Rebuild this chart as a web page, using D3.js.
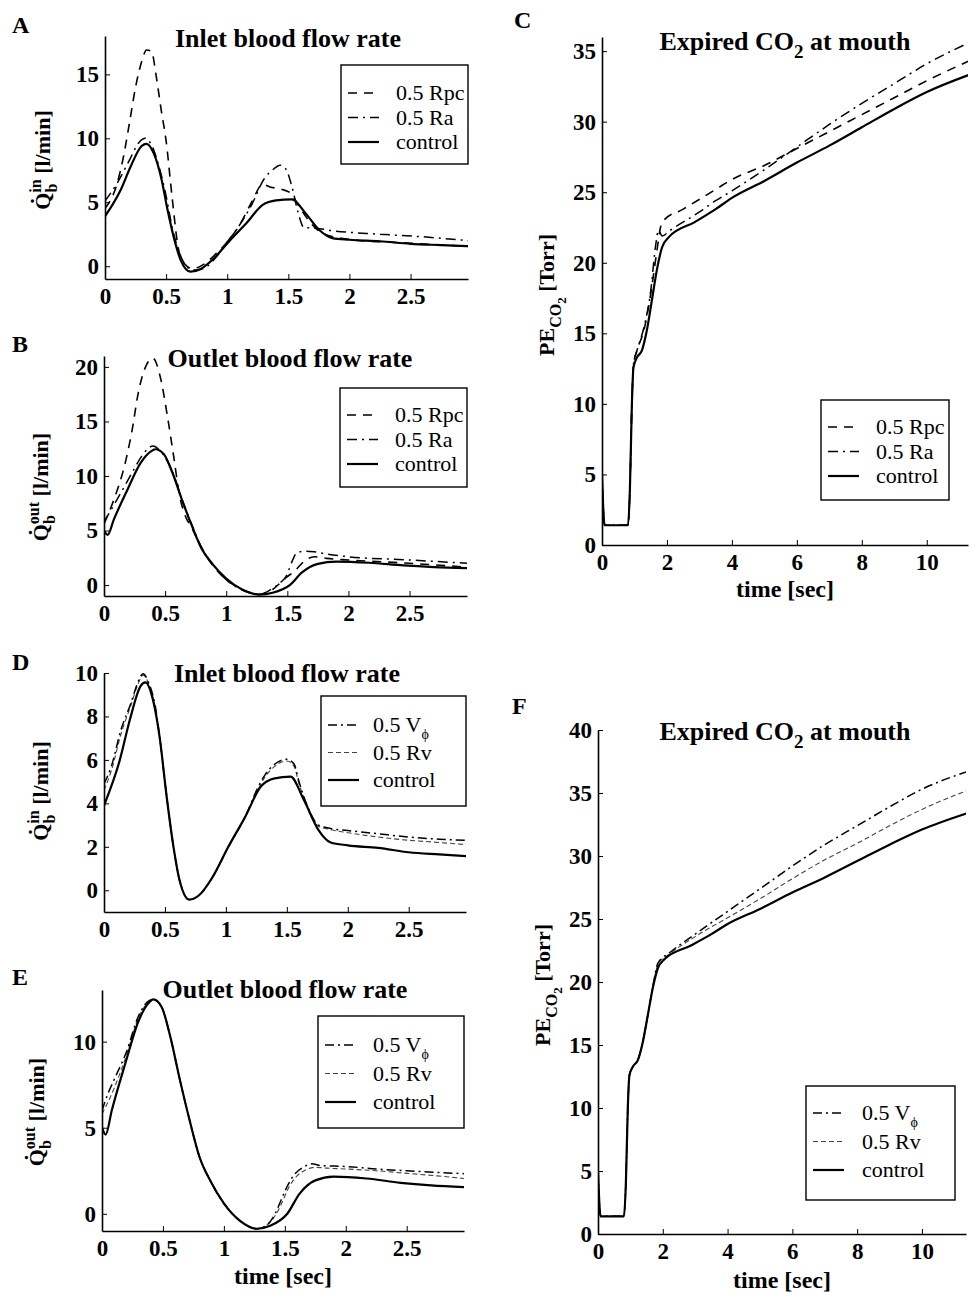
<!DOCTYPE html>
<html>
<head>
<meta charset="utf-8">
<script src="https://cdn.jsdelivr.net/npm/d3@7"></script>
<style>
  body { margin: 0; background: #fff; }
  svg { display: block; font-family: "Liberation Serif", "Times New Roman", Times, serif; }
</style>
</head>
<body>
<svg id="fig" width="972" height="1292"></svg>
<script>
// ---- data: [time, value] ----
var inletControl = [[0,3.9],[0.13,6.0],[0.21,7.8],[0.3,9.4],[0.34,9.57],[0.4,8.8],[0.46,6.9],[0.51,4.5],[0.57,2.0],[0.62,0.46],[0.7,-0.43],[0.78,-0.23],[0.89,0.6],[1.02,2.0],[1.16,3.4],[1.29,4.8],[1.4,5.15],[1.53,5.23],[1.64,4.15],[1.76,2.77],[1.86,2.2],[2.0,2.07],[2.25,1.95],[2.5,1.75],[2.75,1.65],[2.97,1.57]];
var inletRpc = [[0,4.5],[0.1,6.5],[0.15,8.5],[0.2,11.2],[0.25,14],[0.3,16],[0.34,16.9],[0.38,16.8],[0.42,14.8],[0.46,12.2],[0.5,9.8],[0.55,5.3],[0.6,1.4],[0.65,0.2],[0.72,-0.2],[0.8,0.1],[0.9,0.9],[1.0,1.9],[1.1,3.2],[1.2,5.0],[1.29,6.4],[1.35,6.2],[1.45,6.0],[1.52,5.7],[1.58,4.8],[1.65,3.8],[1.72,3.0],[1.8,2.5],[2.0,2.1],[2.5,1.8],[2.97,1.55]];
var inletRa = [[0,5.1],[0.1,6.5],[0.2,8.3],[0.28,9.7],[0.33,10.0],[0.38,9.5],[0.45,7.5],[0.5,5.5],[0.55,3.0],[0.6,1.3],[0.65,0.2],[0.72,-0.3],[0.8,-0.2],[0.9,0.6],[1.0,1.9],[1.1,3.2],[1.2,4.8],[1.3,6.8],[1.38,7.6],[1.43,7.9],[1.48,7.6],[1.53,6.2],[1.58,4.2],[1.63,3.0],[1.7,3.0],[1.84,2.8],[2.25,2.5],[2.6,2.3],[2.97,2.0]];
var inletVphi = [[0,4.9],[0.06,5.7],[0.14,7.4],[0.22,8.6],[0.28,9.6],[0.32,9.97],[0.37,9.5],[0.42,8.5],[0.46,6.9],[0.51,4.5],[0.57,2.0],[0.62,0.46],[0.7,-0.43],[0.78,-0.23],[0.89,0.6],[1.02,2.0],[1.16,3.4],[1.26,4.7],[1.32,5.3],[1.4,5.8],[1.5,6.03],[1.56,5.8],[1.6,5.0],[1.66,4.0],[1.76,3.0],[1.85,2.85],[2.0,2.75],[2.25,2.6],[2.5,2.45],[2.75,2.35],[2.97,2.3]];
var inletRv = [[0,4.6],[0.06,5.5],[0.14,7.2],[0.22,8.5],[0.28,9.5],[0.32,9.9],[0.37,9.45],[0.42,8.4],[0.46,6.9],[0.51,4.5],[0.57,2.0],[0.62,0.46],[0.7,-0.43],[0.78,-0.23],[0.89,0.6],[1.02,2.0],[1.16,3.4],[1.26,4.6],[1.32,5.2],[1.4,5.7],[1.5,5.95],[1.56,5.7],[1.6,4.9],[1.66,4.0],[1.76,2.95],[1.85,2.8],[2.0,2.65],[2.25,2.45],[2.5,2.3],[2.75,2.2],[2.97,2.1]];

var outletControl = [[0,5.0],[0.03,4.6],[0.08,6.0],[0.19,8.7],[0.3,11.2],[0.39,12.3],[0.42,12.45],[0.49,12.0],[0.56,10.3],[0.64,7.75],[0.72,5.4],[0.8,3.3],[0.89,1.9],[1.0,0.6],[1.13,-0.4],[1.27,-0.87],[1.38,-0.7],[1.52,0],[1.62,1.16],[1.75,1.94],[1.9,2.16],[2.17,2.05],[2.45,1.8],[2.7,1.65],[2.97,1.55]];
var outletRpc = [[0,5.6],[0.07,7.5],[0.18,11.5],[0.23,14.2],[0.28,17.6],[0.34,20],[0.4,20.8],[0.46,19.1],[0.52,15.4],[0.57,11.8],[0.62,8.1],[0.66,6.5],[0.72,5.2],[0.8,3.4],[0.89,1.8],[1.0,0.5],[1.13,-0.4],[1.27,-0.85],[1.38,-0.4],[1.48,0.6],[1.56,1.3],[1.64,2.2],[1.72,2.6],[1.82,2.45],[2.0,2.3],[2.5,2.0],[2.97,1.65]];
var outletRa = [[0,5.8],[0.12,8.1],[0.23,10.3],[0.32,12.0],[0.4,12.75],[0.46,12.3],[0.56,10.4],[0.64,7.8],[0.72,5.5],[0.8,3.4],[0.89,1.9],[1.0,0.5],[1.13,-0.45],[1.27,-0.85],[1.38,-0.3],[1.45,0.3],[1.49,0.8],[1.54,2.2],[1.58,3.0],[1.65,3.1],[1.72,3.05],[1.82,2.85],[2.0,2.6],[2.5,2.3],[2.97,2.0]];
var outletVphi = [[0,6.0],[0.05,7.0],[0.1,7.8],[0.2,9.4],[0.3,11.5],[0.39,12.4],[0.42,12.45],[0.49,12.0],[0.56,10.3],[0.64,7.75],[0.72,5.4],[0.8,3.3],[0.89,1.9],[1.0,0.6],[1.13,-0.4],[1.27,-0.87],[1.36,-0.6],[1.42,0],[1.47,0.8],[1.52,1.6],[1.58,2.3],[1.65,2.7],[1.72,2.9],[1.8,2.8],[2.0,2.75],[2.25,2.6],[2.5,2.5],[2.75,2.4],[2.97,2.33]];
var outletRv = [[0,5.8],[0.05,6.5],[0.1,7.3],[0.2,9.2],[0.3,11.4],[0.39,12.35],[0.42,12.45],[0.49,12.0],[0.56,10.3],[0.64,7.75],[0.72,5.4],[0.8,3.3],[0.89,1.9],[1.0,0.6],[1.13,-0.4],[1.27,-0.87],[1.37,-0.55],[1.43,0],[1.48,0.7],[1.53,1.5],[1.6,2.2],[1.67,2.55],[1.75,2.7],[1.85,2.65],[2.0,2.6],[2.25,2.5],[2.5,2.35],[2.75,2.2],[2.97,2.05]];

var co2Control = [[0,5],[0.08,1.4],[0.8,1.4],[0.86,4],[0.92,10],[0.97,12.6],[1.08,13.3],[1.23,13.8],[1.38,15.2],[1.54,17.4],[1.69,19.5],[1.85,21.1],[2.05,21.8],[2.87,22.9],[3.5,23.8],[4,24.6],[5,25.8],[6,27.1],[7,28.3],[8,29.6],[9,30.9],[10,32.1],[11.4,33.4]];
var co2Rpc = [[0,5],[0.08,1.4],[0.8,1.4],[0.86,4],[0.92,10],[0.97,12.8],[1.08,13.8],[1.3,15.3],[1.5,17.8],[1.7,21],[1.8,22.5],[1.9,23.0],[2.5,23.8],[3.5,25.2],[4,25.9],[5,26.9],[6,28.1],[7,29.3],[8,30.5],[9,31.7],[10,32.9],[11.4,34.4]];
var co2Ra = [[0,5],[0.08,1.4],[0.8,1.4],[0.86,4],[0.92,10],[0.97,12.8],[1.08,13.8],[1.3,15.5],[1.5,18],[1.65,21.2],[1.74,22.3],[1.85,21.9],[2.1,22.3],[3,23.6],[3.5,24.4],[4,25.1],[5,26.6],[6,28.2],[7,29.8],[8,31.3],[9,32.7],[10,34.1],[11.4,35.7]];
var co2Vphi = [[0,5],[0.08,1.4],[0.8,1.4],[0.86,4],[0.92,10],[0.97,12.6],[1.08,13.3],[1.23,13.8],[1.38,15.2],[1.54,17.4],[1.69,19.6],[1.85,21.5],[2.2,22.3],[3,23.8],[4,25.6],[5,27.4],[6,29.2],[7,30.9],[8,32.4],[9,33.9],[10,35.3],[11.4,36.7]];
var co2Rv = [[0,5],[0.08,1.4],[0.8,1.4],[0.86,4],[0.92,10],[0.97,12.6],[1.08,13.3],[1.23,13.8],[1.38,15.2],[1.54,17.4],[1.69,19.5],[1.85,21.4],[2.2,22.2],[3,23.6],[4,25.1],[5,26.6],[6,28.2],[7,29.7],[8,31.0],[9,32.4],[10,33.7],[11.4,35.2]];

var flowTicks = [0, 0.5, 1, 1.5, 2, 2.5];
var co2TimeTicks = [0, 2, 4, 6, 8, 10];
var ticksA = [0, 5, 10, 15];
var ticksB = [0, 5, 10, 15, 20];
var ticksC = [0, 5, 10, 15, 20, 25, 30, 35];
var ticksD = [0, 2, 4, 6, 8, 10];
var ticksE = [0, 5, 10];
var ticksF = [0, 5, 10, 15, 20, 25, 30, 35, 40];

var legendTop = [{key: "rpc", text: "0.5 Rpc"}, {key: "ra", text: "0.5 Ra"}, {key: "control", text: "control"}];
var legendBottom = [{key: "vphi", text: "0.5 V", sub: "\u03d5"}, {key: "rv", text: "0.5 Rv"}, {key: "control", text: "control"}];

// ---- drawing ----
var FONT = '"Liberation Serif", "Times New Roman", Times, serif';

var styles = {
  control: {color: "#000", width: 2.2, dash: null},
  rpc: {color: "#000", width: 1.6, dash: "9,7"},
  ra: {color: "#000", width: 1.5, dash: "10,5,2,5"},
  vphi: {color: "#000", width: 1.5, dash: "9,4,2,4"},
  rv: {color: "#444", width: 1.1, dash: "5,3"}
};

var svg = d3.select("#fig");

function drawPanel(p) {
  var x = d3.scaleLinear().domain(p.xDomain).range([p.left, p.right]);
  var y = d3.scaleLinear().domain(p.yDomain).range([p.bottom, p.top]);
  var g = svg.append("g");

  g.append("clipPath").attr("id", "clip" + p.label)
    .append("rect")
      .attr("x", p.left).attr("y", p.top - 3)
      .attr("width", p.right - p.left).attr("height", p.bottom - p.top + 6);

  var line = d3.line()
    .x(function(d) { return x(d[0]); })
    .y(function(d) { return y(d[1]); })
    .curve(d3.curveMonotoneX);

  p.series.forEach(function(s) {
    var st = styles[s.key];
    g.append("path")
      .datum(s.data)
      .attr("d", line)
      .attr("fill", "none")
      .attr("stroke", st.color)
      .attr("stroke-width", st.width)
      .attr("stroke-dasharray", st.dash)
      .attr("stroke-linejoin", "round")
      .attr("clip-path", "url(#clip" + p.label + ")");
  });

  var xAxis = d3.axisBottom(x).tickValues(p.xTicks).tickSizeInner(-5).tickSizeOuter(0)
    .tickPadding(9).tickFormat(d3.format("~g"));
  var yAxis = d3.axisLeft(y).tickValues(p.yTicks).tickSizeInner(-5).tickSizeOuter(0)
    .tickPadding(6).tickFormat(d3.format("~g"));

  [g.append("g").attr("transform", "translate(0," + p.bottom + ")").call(xAxis),
   g.append("g").attr("transform", "translate(" + p.left + ",0)").call(yAxis)]
    .forEach(function(a) {
      a.attr("font-family", FONT).attr("font-size", 23).attr("font-weight", "bold");
      a.select(".domain").attr("stroke-width", 1.6);
      a.selectAll(".tick line").attr("stroke-width", 1);
      a.selectAll(".tick text").attr("fill", "#000");
    });

  // title
  var t = g.append("text")
    .attr("x", p.titleX).attr("y", p.titleY)
    .attr("text-anchor", "middle")
    .attr("font-size", 26).attr("font-weight", "bold");
  if (p.titleSub) {
    t.append("tspan").text(p.title);
    t.append("tspan").attr("font-size", 19).attr("dy", 8).text(p.titleSub);
    t.append("tspan").attr("dy", -8).text(p.titleRest);
  } else {
    t.text(p.title);
  }

  // panel letter
  g.append("text")
    .attr("x", p.letterX).attr("y", p.letterY)
    .attr("font-size", 24).attr("font-weight", "bold")
    .text(p.label);

  // y label, rotated
  var yl = g.append("text")
    .attr("transform", "translate(" + p.ylabelX + "," + p.ylabelY + ") rotate(-90)")
    .attr("text-anchor", "middle")
    .attr("font-size", 22).attr("font-weight", "bold");
  if (p.ylabel === "flow") {
    yl.append("tspan").text("Q\u0307");
    yl.append("tspan").attr("font-size", 16).attr("dy", 7).text("b");
    yl.append("tspan").attr("font-size", 16).attr("dx", -9).attr("dy", -16).text(p.flowDir);
    yl.append("tspan").attr("dy", 9).text(" [l/min]");
  } else {
    yl.append("tspan").text("PE");
    yl.append("tspan").attr("font-size", 16).attr("dy", 7).text("CO");
    yl.append("tspan").attr("font-size", 13).attr("dy", 5).text("2");
    yl.append("tspan").attr("dy", -12).text(" [Torr]");
  }

  // x label
  if (p.xlabel) {
    g.append("text")
      .attr("x", (p.left + p.right) / 2).attr("y", p.xlabelY)
      .attr("text-anchor", "middle")
      .attr("font-size", 24).attr("font-weight", "bold")
      .text("time [sec]");
  }

  // legend
  var L = p.legend;
  var lg = g.append("g");
  lg.append("rect")
    .attr("x", L.x).attr("y", L.y).attr("width", L.w).attr("height", L.h)
    .attr("fill", "#fff").attr("stroke", "#000").attr("stroke-width", 1.4);
  L.rows.forEach(function(r, i) {
    var yy = L.firstRow + i * L.step;
    var st = styles[r.key];
    lg.append("line")
      .attr("x1", L.x + 7).attr("x2", L.x + 38)
      .attr("y1", yy).attr("y2", yy)
      .attr("stroke", st.color).attr("stroke-width", st.width)
      .attr("stroke-dasharray", st.dash);
    var tx = lg.append("text")
      .attr("x", L.x + L.textDx).attr("y", yy + 7)
      .attr("font-size", 22);
    tx.append("tspan").text(r.text);
    if (r.sub) {
      tx.append("tspan").attr("font-size", 14).attr("dy", 7).text(r.sub);
    }
  });
}

var panels = [
  {label: "A", left: 105, right: 468, top: 36, bottom: 279, xDomain: [0, 2.97], yDomain: [-1, 18],
   xTicks: flowTicks, yTicks: ticksA,
   series: [{key: "rpc", data: inletRpc}, {key: "ra", data: inletRa}, {key: "control", data: inletControl}],
   title: "Inlet blood flow rate", titleX: 288, titleY: 47, letterX: 12, letterY: 33,
   ylabel: "flow", flowDir: "in", ylabelX: 50, ylabelY: 160,
   legend: {x: 341, y: 65, w: 127, h: 99, firstRow: 93, step: 24.5, textDx: 55, rows: legendTop}},
  {label: "B", left: 104, right: 467, top: 356, bottom: 596, xDomain: [0, 2.97], yDomain: [-1, 21],
   xTicks: flowTicks, yTicks: ticksB,
   series: [{key: "rpc", data: outletRpc}, {key: "ra", data: outletRa}, {key: "control", data: outletControl}],
   title: "Outlet blood flow rate", titleX: 290, titleY: 367, letterX: 12, letterY: 352,
   ylabel: "flow", flowDir: "out", ylabelX: 48, ylabelY: 487,
   legend: {x: 340, y: 388, w: 127, h: 99, firstRow: 415, step: 24.5, textDx: 55, rows: legendTop}},
  {label: "C", left: 602, right: 968, top: 37, bottom: 545, xDomain: [0, 11.27], yDomain: [0, 36],
   xTicks: co2TimeTicks, yTicks: ticksC,
   series: [{key: "rpc", data: co2Rpc}, {key: "ra", data: co2Ra}, {key: "control", data: co2Control}],
   title: "Expired CO", titleSub: "2", titleRest: " at mouth", titleX: 785, titleY: 50, letterX: 514, letterY: 28,
   ylabel: "co2", ylabelX: 554, ylabelY: 295, xlabel: true, xlabelY: 597,
   legend: {x: 821, y: 400, w: 128, h: 100, firstRow: 427, step: 24.5, textDx: 55, rows: legendTop}},
  {label: "D", left: 104, right: 466, top: 673, bottom: 912, xDomain: [0, 2.97], yDomain: [-1, 10],
   xTicks: flowTicks, yTicks: ticksD,
   series: [{key: "rv", data: inletRv}, {key: "vphi", data: inletVphi}, {key: "control", data: inletControl}],
   title: "Inlet blood flow rate", titleX: 287, titleY: 682, letterX: 12, letterY: 670,
   ylabel: "flow", flowDir: "in", ylabelX: 48, ylabelY: 791,
   legend: {x: 321, y: 696, w: 145, h: 110, firstRow: 725, step: 27.5, textDx: 52, rows: legendBottom}},
  {label: "E", left: 102, right: 464, top: 990, bottom: 1231, xDomain: [0, 2.97], yDomain: [-1, 13],
   xTicks: flowTicks, yTicks: ticksE,
   series: [{key: "rv", data: outletRv}, {key: "vphi", data: outletVphi}, {key: "control", data: outletControl}],
   title: "Outlet blood flow rate", titleX: 285, titleY: 998, letterX: 12, letterY: 985,
   ylabel: "flow", flowDir: "out", ylabelX: 44, ylabelY: 1112, xlabel: true, xlabelY: 1284,
   legend: {x: 318, y: 1016, w: 146, h: 112, firstRow: 1045, step: 28.5, textDx: 55, rows: legendBottom}},
  {label: "F", left: 598, right: 966, top: 730, bottom: 1234, xDomain: [0, 11.36], yDomain: [0, 40],
   xTicks: co2TimeTicks, yTicks: ticksF,
   series: [{key: "rv", data: co2Rv}, {key: "vphi", data: co2Vphi}, {key: "control", data: co2Control}],
   title: "Expired CO", titleSub: "2", titleRest: " at mouth", titleX: 785, titleY: 740, letterX: 512, letterY: 714,
   ylabel: "co2", ylabelX: 550, ylabelY: 985, xlabel: true, xlabelY: 1288,
   legend: {x: 806, y: 1086, w: 149, h: 114, firstRow: 1113, step: 28.5, textDx: 56, rows: legendBottom}}
];

panels.forEach(drawPanel);
</script>
</body>
</html>
